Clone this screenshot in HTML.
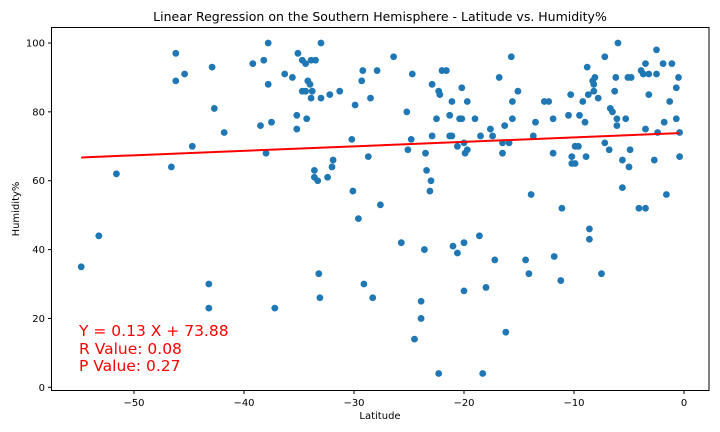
<!DOCTYPE html>
<html><head><meta charset="utf-8"><style>
html,body{margin:0;padding:0;background:#fff;}
svg{display:block;font-family:"DejaVu Sans","Liberation Sans",sans-serif;}
</style></head><body>
<svg id="chart" width="720" height="432" viewBox="0 0 720 432" xmlns="http://www.w3.org/2000/svg">
<rect x="0" y="0" width="720" height="432" fill="#fff"/>
<text x="380" y="21" font-size="12.5" text-anchor="middle" fill="#000">Linear Regression on the Southern Hemisphere - Latitude vs. Humidity%</text>
<g id="grid"></g>
<g id="points"></g>
<g id="line"></g>
<rect x="51.5" y="27.5" width="657.5" height="363" fill="none" stroke="#000" stroke-width="1"/>
<g id="ticks"></g>
<text x="380" y="419" font-size="10" text-anchor="middle">Latitude</text>
<text x="19" y="209" font-size="10" text-anchor="middle" transform="rotate(-90 19 209)">Humidity%</text>
<g fill="#ff0000" font-size="15.5">
<text x="79" y="336">Y = 0.13 X + 73.88</text>
<text x="79" y="354">R Value: 0.08</text>
<text x="79" y="371">P Value: 0.27</text>
</g>
</svg>
<script>
const lats = [-54.8,-53.2,-51.6,-46.2,-46.2,-45.4,-46.6,-44.7,-42.9,-42.7,-41.8,-43.2,-43.2,-39.2,-38.2,-37.8,-37.8,-38.5,-37.5,-38.0,-37.2,-36.3,-35.6,-35.1,-34.7,-34.4,-33.9,-33.5,-33.0,-34.2,-34.0,-34.7,-34.4,-33.8,-33.9,-33.0,-32.2,-31.3,-35.2,-34.3,-35.2,-33.6,-33.6,-33.3,-32.4,-31.9,-32.0,-33.2,-33.1,-29.2,-29.3,-27.9,-28.5,-29.9,-30.2,-28.7,-30.1,-29.6,-27.6,-29.1,-28.3,
-26.4,-24.7,-25.2,-24.8,-25.1,-23.5,-23.4,-23.0,-23.1,-22.9,-22.9,-22.3,-22.2,-22.0,-21.6,-22.5,-21.1,-21.3,-21.3,-21.1,-20.6,-20.2,-20.4,-20.2,-20.0,-19.9,-19.7,-19.7,-19.0,-18.5,-17.6,-17.4,-16.8,-16.3,-16.5,-16.5,-15.9,-15.7,-15.6,-15.6,-15.1,-13.7,-13.5,-13.9,-12.7,-12.3,-11.9,-11.9,-11.1,-10.3,-10.5,-10.2,-10.2,-9.9,-9.9,-9.6,-9.5,-9.2,-9.0,-8.9,-8.8,-8.7,-8.3,-8.2,-8.1,-8.2,-7.8,-8.6,-8.6,-7.2,-7.5,-7.2,-6.8,-6.7,-6.5,-6.0,-6.2,-6.3,-6.1,-6.1,-5.6,-5.6,-5.3,-5.1,-4.8,-4.9,-5.0,-4.1,-3.5,-3.9,-3.7,-3.2,-2.5,-3.5,-2.5,-3.2,-3.5,-2.7,-2.4,-1.8,-1.6,-1.9,-1.1,-1.3,-0.7,-0.5,-0.7,-0.4,-0.4,
-25.7,-23.6,-23.9,-23.9,-24.5,-22.3,-21.0,-20.6,-20.0,-20.0,-18.6,-18.0,-17.2,-16.2,-18.3,-14.4,-14.1,-11.8,-11.2];
const humidity = [35,44,62,97,89,91,64,70,93,81,74,30,23,94,95,100,88,76,77,68,23,91,90,97,95,94,95,95,100,89,88,86,86,86,84,84,85,86,79,78,75,63,61,60,61,66,64,33,26,92,89,92,84,82,72,67,57,49,53,30,26,
96,91,80,72,69,68,63,60,57,73,88,86,85,92,92,78,83,79,73,73,70,87,78,78,71,68,69,83,78,73,75,73,90,76,71,68,71,96,83,78,86,73,77,56,83,83,78,68,52,85,79,67,65,65,70,70,79,83,77,67,93,85,89,88,90,86,84,46,43,96,33,71,69,81,80,100,90,86,78,76,66,58,78,90,90,69,64,52,52,92,91,91,91,94,98,85,75,66,74,77,56,94,94,83,87,90,78,74,67,
42,40,25,20,14,4,41,39,42,28,44,29,37,16,4,37,33,38,31];
const xTicks = [-50,-40,-30,-20,-10,0];
const yTicks = [0,20,40,60,80,100];
const slope = 0.13, intercept = 73.88;

const NS = "http://www.w3.org/2000/svg";
const xs = v => 684 + v * 11.0;
const ys = v => 387.3 - v * 3.443;

const pg = document.getElementById('points');
lats.forEach((la, i) => {
  const c = document.createElementNS(NS, 'circle');
  c.setAttribute('cx', xs(la));
  c.setAttribute('cy', ys(humidity[i]));
  c.setAttribute('r', 3.4);
  c.setAttribute('fill', '#1f77b4');
  
  
  pg.appendChild(c);
});

const xmin = Math.min(...lats), xmax = Math.max(...lats);
const ln = document.createElementNS(NS, 'line');
ln.setAttribute('x1', xs(xmin)); ln.setAttribute('y1', ys(slope * xmin + intercept));
ln.setAttribute('x2', xs(xmax)); ln.setAttribute('y2', ys(slope * xmax + intercept));
ln.setAttribute('stroke', '#ff0000'); ln.setAttribute('stroke-width', 2);


document.getElementById('line').appendChild(ln);

const tg = document.getElementById('ticks');
xTicks.forEach(t => {
  const l = document.createElementNS(NS, 'line');
  l.setAttribute('x1', xs(t)); l.setAttribute('x2', xs(t));
  l.setAttribute('y1', 390.5); l.setAttribute('y2', 394);
  l.setAttribute('stroke', '#000');
  
  
  tg.appendChild(l);
  const tx = document.createElementNS(NS, 'text');
  tx.setAttribute('x', xs(t)); tx.setAttribute('y', 406);
  tx.setAttribute('font-size', 10); tx.setAttribute('text-anchor', 'middle');
  tx.textContent = t < 0 ? '\u2212' + Math.abs(t) : String(t);
  
  
  tg.appendChild(tx);
});
yTicks.forEach(t => {
  const l = document.createElementNS(NS, 'line');
  l.setAttribute('x1', 48); l.setAttribute('x2', 51.5);
  l.setAttribute('y1', ys(t)); l.setAttribute('y2', ys(t));
  l.setAttribute('stroke', '#000');
  
  
  tg.appendChild(l);
  const tx = document.createElementNS(NS, 'text');
  tx.setAttribute('x', 45); tx.setAttribute('y', ys(t) + 3.5);
  tx.setAttribute('font-size', 10); tx.setAttribute('text-anchor', 'end');
  tx.textContent = String(t);
  
  
  tg.appendChild(tx);
});
</script>
</body></html>
